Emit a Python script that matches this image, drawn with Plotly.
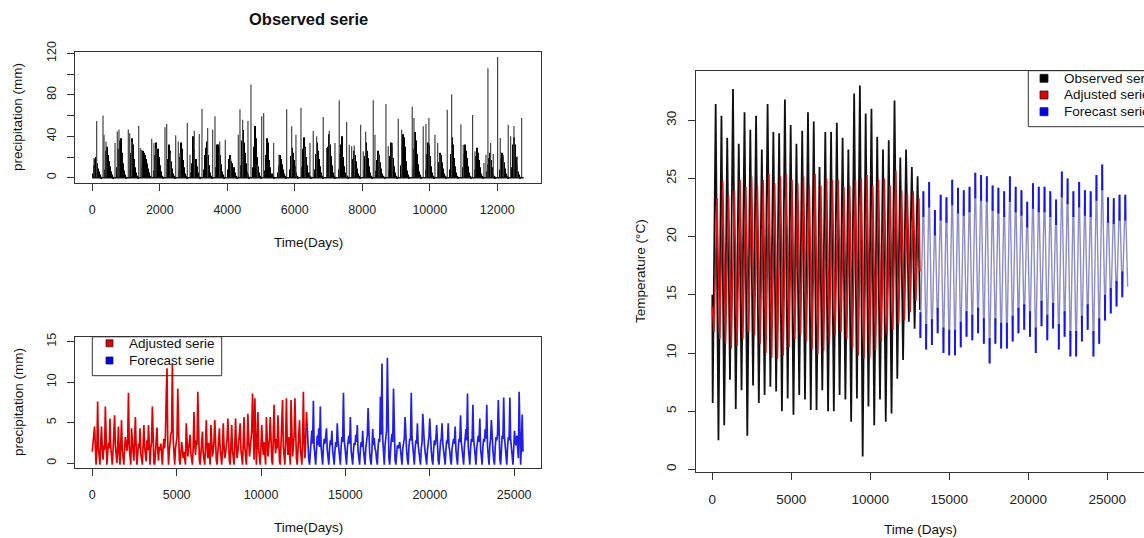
import plotly.graph_objects as go

W, H = 1144, 538
FONT = "Liberation Sans, Arial, sans-serif"
YEAR = 365.25


def fx(p):
    return p / W


def fy(p):
    return 1 - p / H


# ---------------- data: observed daily precipitation (top-left) ----------------
# dense (black) monthly level per year, 12 months per year
obs_monthly = [
    [4, 12, 18, 20, 14, 9, 6, 3, 1, 0, 0, 0],
    [8, 26, 30, 22, 16, 11, 6, 3, 1, 0, 0, 0],
    [10, 28, 36, 38, 24, 14, 7, 3, 1, 0, 0, 0],
    [8, 24, 38, 32, 18, 10, 5, 2, 1, 0, 0, 0],
    [10, 26, 24, 22, 18, 14, 9, 5, 2, 0, 0, 0],
    [7, 22, 34, 28, 20, 12, 6, 2, 1, 0, 0, 0],
    [6, 18, 32, 26, 16, 9, 4, 2, 1, 0, 0, 0],
    [7, 20, 34, 28, 17, 10, 4, 2, 1, 0, 0, 0],
    [5, 14, 40, 28, 18, 11, 5, 2, 1, 0, 0, 0],
    [8, 22, 29, 35, 22, 12, 5, 2, 1, 0, 0, 0],
    [10, 32, 32, 29, 22, 13, 6, 3, 1, 0, 0, 0],
    [8, 18, 22, 16, 14, 10, 5, 2, 1, 0, 0, 0],
    [12, 36, 46, 34, 24, 14, 6, 3, 1, 0, 0, 0],
    [10, 30, 50, 38, 20, 11, 5, 2, 1, 0, 0, 0],
    [7, 22, 38, 34, 17, 10, 4, 2, 1, 0, 0, 0],
    [5, 12, 22, 18, 13, 8, 4, 2, 1, 0, 0, 0],
    [8, 21, 29, 24, 17, 11, 5, 2, 1, 0, 0, 0],
    [10, 28, 39, 30, 20, 12, 5, 2, 1, 0, 0, 0],
    [8, 23, 34, 26, 18, 11, 5, 2, 1, 0, 0, 0],
    [10, 30, 42, 32, 21, 12, 5, 2, 1, 0, 0, 0],
    [8, 23, 32, 40, 20, 11, 5, 2, 1, 0, 0, 0],
    [7, 18, 26, 22, 16, 9, 4, 2, 1, 0, 0, 0],
    [8, 21, 34, 26, 19, 11, 5, 2, 1, 0, 0, 0],
    [7, 17, 26, 22, 15, 9, 4, 2, 1, 0, 0, 0],
    [8, 21, 34, 30, 19, 11, 5, 2, 1, 0, 0, 0],
    [12, 32, 42, 39, 30, 16, 7, 3, 1, 0, 0, 0],
    [10, 28, 44, 36, 23, 13, 6, 3, 1, 0, 0, 0],
    [8, 23, 34, 32, 21, 11, 5, 2, 1, 0, 0, 0],
    [7, 15, 24, 22, 15, 9, 4, 2, 1, 0, 0, 0],
    [8, 23, 39, 32, 19, 11, 5, 2, 1, 0, 0, 0],
    [10, 23, 32, 26, 19, 11, 5, 2, 1, 0, 0, 0],
    [8, 21, 29, 24, 17, 10, 4, 2, 1, 0, 0, 0],
    [6, 13, 19, 24, 17, 10, 4, 2, 1, 0, 0, 0],
    [8, 18, 24, 20, 15, 9, 4, 2, 1, 0, 0, 0],
    [10, 32, 39, 32, 20, 12, 6, 3, 1, 0, 0, 0],
]
# isolated rain spikes (day, mm)
spike_day = [50, 129, 317, 347, 406, 673, 741, 790, 1067, 1108, 1167, 1375, 1422, 1463,
             1760, 1828, 1887, 2154, 2204, 2311, 2471, 2548, 2598, 2815, 2895, 3022, 3170,
             3250, 3418, 3567, 3636, 3775, 3941, 4101, 4326, 4376, 4455, 4613, 4702, 4889,
             5019, 5078, 5374, 5531, 5760, 5908, 6035, 6184, 6302, 6450, 6548, 6648, 6844,
             6944, 7022, 7191, 7318, 7537, 7615, 7686, 7763, 7952, 8030, 8101, 8326, 8376,
             8495, 8702, 8770, 8889, 9067, 9167, 9482, 9532, 9807, 9887, 9976, 10154, 10234,
             10302, 10519, 10649, 10924, 10993, 11270, 11339, 11606, 11665, 11724, 11803,
             11882, 12011, 12090, 12178, 12326, 12397, 12495, 12593, 12723]
spike_mm = [19, 54.7, 60, 41.5, 35, 33.5, 44.7, 46.6, 46.6, 43, 34.4, 49.9, 28.6, 27,
            37.6, 33.5, 28.6, 48.6, 51.8, 23.8, 40.9, 35, 23.8, 52.7, 22.2, 45.3, 42.1,
            66.2, 48, 46.3, 59.2, 35, 36.7, 19, 41.5, 66, 56, 55, 90, 12.5,
            59.2, 62.4, 33.5, 22.2, 66, 49.6, 41.5, 67.5, 28.6, 33.5, 45, 39.9, 58.5,
            28.6, 45.3, 33.5, 74.8, 53.8, 31.8, 30.3, 31.2, 51, 25.5, 44.7, 74.8, 41.5,
            22.9, 71.1, 30.3, 33.5, 57, 46.3, 68.5, 57.6, 49.6, 51.8, 57.6, 41.5, 33.5,
            22.2, 65.5, 80.2, 51.5, 31.8, 60.6, 25.5, 14.2, 22.2, 105.6, 33.5,
            22.9, 116.6, 38.3, 22.2, 51, 39.9, 50, 20.6, 57.7]
assert len(spike_day) == len(spike_mm)

# ---------------- data: adjusted / forecast precipitation (bottom-left) ----------------
# 8 evenly spaced values per year
adj_prof = [
    [1.4, 2.2, 3.2, 4.5, 2.0, -0.2, 1.5, 7.6],
    [2.0, 1.0, -0.2, 2.5, 4.5, 1.8, 0.4, 2.2],
    [1.6, 7.0, 2.0, -0.2, 1.2, 2.5, 1.8, 5.5],
    [2.0, 0.5, -0.2, 1.5, 3.0, 5.9, 2.2, 1.0],
    [0.0, 2.0, 4.5, 1.2, -0.2, 2.4, 5.3, 1.6],
    [0.4, -0.2, 1.8, 3.2, 2.4, 1.5, 2.8, 8.7],
    [2.0, 0.2, -0.2, 4.3, 2.2, 1.4, 0.3, 2.6],
    [5.7, 2.0, -0.2, 1.0, 2.4, 1.8, 4.3, 1.2],
    [0.0, -0.2, 2.2, 4.7, 2.0, 1.0, 0.2, 2.8],
    [1.6, 4.7, 1.4, -0.2, 1.8, 2.6, 7.0, 1.8],
    [0.0, -0.2, 1.5, 2.8, 4.4, 1.6, 0.3, 2.0],
    [1.6, 2.4, 0.4, -0.2, 2.0, 3.0, 1.8, 3.5],
    [8.2, 11.7, 2.5, -0.2, 1.5, 2.8, 3.5, 4.0],
    [12.3, 3.0, 0.5, -0.2, 1.8, 2.6, 3.2, 9.2],
    [1.5, 0.4, -0.2, 1.2, 2.6, 1.8, 0.6, 1.4],
    [0.4, -0.2, 4.9, 2.0, 0.8, 1.6, 2.4, 3.5],
    [1.2, 0.2, -0.2, 2.0, 6.3, 2.4, 1.0, 2.8],
    [2.2, 8.8, 2.6, 0.4, -0.2, 1.8, 2.4, 3.9],
    [1.2, 0.3, -0.2, 2.2, 5.3, 2.0, 0.6, 2.5],
    [0.5, -0.2, 4.7, 2.2, 0.8, 1.5, 2.6, 5.3],
    [1.6, 0.4, -0.2, 1.4, 2.6, 4.3, 1.8, 0.6],
    [-0.2, 1.5, 4.9, 2.2, 0.6, 1.2, 2.4, 3.0],
    [5.5, 1.8, 0.2, -0.2, 2.0, 4.7, 1.6, 0.8],
    [-0.2, 2.0, 5.5, 2.4, 0.6, 1.4, 2.8, 3.2],
    [4.9, 1.6, 0.2, -0.2, 2.4, 5.7, 2.0, 1.0],
    [-0.2, 2.2, 6.1, 3.0, 0.8, 1.8, 3.0, 4.0],
    [8.6, 2.4, 0.4, 8.0, 3.0, -0.2, 2.2, 6.3],
    [1.8, 0.3, -0.2, 2.2, 4.7, 2.4, 1.0, 2.6],
    [0.4, -0.2, 5.7, 2.6, 0.8, 1.8, 3.0, 5.7],
    [1.6, 0.3, -0.2, 2.6, 7.2, 2.8, 1.2, 3.0],
    [1.8, 5.9, 2.4, 0.2, -0.2, 2.2, 3.2, 7.8],
    [2.0, 0.4, -0.2, 3.0, 8.0, 2.8, 1.0, 3.2],
    [0.6, -0.2, 7.8, 2.8, 0.8, 2.0, 3.4, 8.0],
    [2.2, 0.5, -0.2, 1.6, 2.8, 5.3, 2.0, 0.8],
    [-0.2, 2.4, 8.8, 3.0, 0.6, 2.6, 6.3, 4.5],
]
fc_prof = [
    [1.2, 0.4, -0.2, 1.8, 2.6, 4.0, 2.4, 7.7],
    [2.0, 0.6, -0.2, 1.6, 3.4, 2.2, 4.3, 2.0],
    [7.0, 2.0, 0.3, -0.2, 2.0, 3.0, 2.4, 3.6],
    [4.3, 1.6, 0.2, -0.2, 1.8, 2.8, 2.2, 4.0],
    [1.6, 0.4, -0.2, 1.5, 2.6, 2.0, 4.9, 2.8],
    [1.8, 0.5, -0.2, 2.0, 3.2, 2.6, 8.7, 3.0],
    [1.6, 0.4, -0.2, 1.8, 2.8, 3.4, 2.4, 5.7],
    [1.5, 0.3, -0.2, 1.6, 2.5, 2.2, 3.5, 2.6],
    [4.7, 1.4, 0.2, -0.2, 1.8, 2.6, 2.0, 4.0],
    [1.6, 0.4, -0.2, 1.8, 2.8, 3.5, 6.8, 2.4],
    [1.4, 0.3, -0.2, 1.6, 4.2, 2.2, 3.1, 1.8],
    [1.5, 0.4, -0.2, 2.0, 3.0, 2.6, 8.2, 3.5],
    [12.3, 3.0, 0.5, -0.2, 2.2, 3.2, 4.0, 13.0],
    [3.2, 0.6, -0.2, 1.8, 2.8, 3.6, 2.6, 9.2],
    [1.8, 0.4, -0.2, 1.4, 2.2, 1.8, 2.0, 2.6],
    [1.5, 0.4, -0.2, 1.8, 2.6, 3.0, 5.7, 2.2],
    [1.6, 0.4, -0.2, 2.0, 3.0, 2.8, 8.7, 3.2],
    [1.8, 0.5, -0.2, 1.8, 2.8, 2.4, 4.9, 2.2],
    [1.5, 0.4, -0.2, 1.8, 2.6, 6.1, 3.0, 2.4],
    [1.4, 0.3, -0.2, 1.6, 2.4, 3.2, 5.5, 2.0],
    [1.5, 0.4, -0.2, 1.6, 2.8, 2.2, 3.0, 4.7],
    [1.6, 0.4, -0.2, 1.8, 2.6, 3.0, 4.9, 2.4],
    [1.4, 0.3, -0.2, 1.6, 2.8, 2.4, 4.9, 2.0],
    [1.5, 0.4, -0.2, 1.8, 2.6, 3.0, 2.4, 4.5],
    [1.6, 0.4, -0.2, 1.8, 3.0, 2.6, 5.9, 2.6],
    [1.5, 0.5, -0.2, 2.0, 3.2, 4.2, 2.8, 8.6],
    [2.0, 0.5, -0.2, 1.8, 3.0, 2.6, 7.2, 3.0],
    [1.6, 0.4, -0.2, 1.8, 2.8, 3.4, 2.6, 5.5],
    [1.8, 0.5, -0.2, 2.0, 3.0, 2.6, 4.2, 3.0],
    [7.2, 2.0, 0.3, -0.2, 2.2, 3.0, 5.3, 2.4],
    [1.6, 0.4, -0.2, 2.0, 3.2, 2.8, 3.6, 7.8],
    [2.0, 0.5, -0.2, 2.2, 3.4, 3.0, 8.1, 3.2],
    [1.8, 0.5, -0.2, 2.0, 3.2, 2.8, 8.1, 3.0],
    [1.6, 0.4, -0.2, 1.8, 4.0, 2.6, 2.2, 3.4],
    [1.8, 0.6, 8.8, 2.4, -0.2, 2.2, 6.0, 1.4],
]

# ---------------- data: temperature (right) yearly extremes ----------------
obs_t_start = 15.0
obs_t_max = [31.4, 30.4, 28.5, 32.7, 28.0, 30.7, 29.2, 30.4, 27.5, 31.4, 29.0, 28.9,
             31.8, 29.6, 28.0, 29.1, 30.7, 29.9, 26.0, 29.0, 29.0, 29.8, 28.5, 27.5,
             32.3, 33.0, 30.6, 31.0, 28.6, 27.5, 28.3, 31.7, 26.8, 27.5, 26.0, 25.2]
obs_t_min = [5.7, 2.5, 3.8, 7.7, 5.2, 6.8, 2.9, 7.2, 5.7, 6.4, 7.1, 6.7, 5.0, 6.1,
             4.7, 6.4, 6.0, 5.1, 5.1, 6.8, 5.0, 5.0, 6.4, 6.0, 4.1, 6.1, 1.1, 5.4,
             3.8, 6.0, 4.1, 4.8, 7.8, 9.4, 12.7, 12.1, 13.7]
adj_t_start = 14.0
adj_t_max = [23.3, 24.8, 23.6, 24.0, 24.9, 24.3, 25.2, 24.4, 24.9, 25.4, 24.6, 25.2,
             25.4, 24.9, 24.6, 25.2, 24.4, 25.4, 24.4, 25.0, 24.9, 24.9, 24.3, 24.4,
             24.9, 25.0, 25.3, 24.4, 24.9, 25.0, 24.4, 25.7, 24.0, 23.7, 23.9, 23.3]
adj_t_min = [11.8, 11.2, 10.8, 10.4, 10.6, 11.2, 11.8, 11.5, 10.8, 10.0, 9.6, 9.5,
             9.8, 10.5, 11.2, 11.6, 11.0, 10.3, 9.9, 10.2, 10.8, 11.5, 11.8, 11.2,
             10.4, 9.8, 9.5, 9.6, 10.2, 11.0, 11.6, 12.0, 12.5, 12.8, 13.5, 14.5, 17.0]
fc_t_start = 12.0
fc_t_max = [23.9, 24.7, 22.3, 23.6, 23.4, 24.9, 24.2, 24.0, 24.3, 25.5, 25.3, 25.2,
            24.4, 24.2, 23.9, 25.2, 24.3, 24.0, 23.0, 24.6, 24.3, 24.3, 23.9, 23.2,
            25.6, 25.0, 23.9, 24.7, 24.0, 23.9, 25.3, 26.2, 23.4, 23.3, 23.6, 23.6]
fc_t_min = [11.3, 10.3, 10.7, 11.7, 10.0, 9.8, 9.8, 10.5, 11.4, 11.1, 11.7, 10.8,
            9.1, 10.8, 10.4, 10.4, 11.0, 11.7, 12.0, 11.4, 10.0, 12.3, 11.1, 12.1,
            10.3, 11.4, 9.7, 9.7, 11.0, 12.0, 9.7, 10.8, 12.8, 13.4, 14.0, 14.8, 15.7]

legend_bottom = ["Adjusted serie", "Forecast serie"]
legend_right = ["Observed serie", "Adjusted serie", "Forecast serie"]

# ---------------- styles ----------------
C_OBS, C_ADJ, C_FC = "#000000", "#e00000", "#0000ff"
OBS_OFF = (25, 215)
ADJ_OFF = (110, 300)
FC_OFF = (25, 215)


def profile_path(rows, start):
    xs, ys = [], []
    for k, row in enumerate(rows):
        n = len(row)
        for j, v in enumerate(row):
            xs.append(start + k * YEAR + j * YEAR / n)
            ys.append(v)
    return xs, ys


def zigzag(start_day, start_val, mins, maxs, off):
    xs, ys = [start_day], [start_val]
    for k in range(len(maxs)):
        xs += [start_day + k * YEAR + off[0], start_day + k * YEAR + off[1]]
        ys += [mins[k], maxs[k]]
    if len(mins) > len(maxs):
        xs.append(start_day + len(maxs) * YEAR)
        ys.append(mins[-1])
    return xs, ys


fig = go.Figure()

# --- top-left ---
bx, by = [], []
for k, row in enumerate(obs_monthly):
    for m, v in enumerate(row):
        bx.append(k * YEAR + (m + 0.5) * YEAR / 12)
        by.append(v)
fig.add_trace(go.Bar(x=bx, y=by, width=YEAR / 12,
                     marker=dict(color="#000000", line=dict(width=0)),
                     xaxis="x", yaxis="y"))
sx, sy = [], []
for d, v in zip(spike_day, spike_mm):
    sx += [d, d, None]
    sy += [0, v, None]
fig.add_trace(go.Scatter(x=sx, y=sy, mode="lines", line=dict(color="#444444", width=1.2),
                         xaxis="x", yaxis="y"))
n_days_obs = len(obs_monthly) * YEAR
fig.add_trace(go.Scatter(x=[0, n_days_obs], y=[0, 0], mode="lines",
                         line=dict(color="#111111", width=1.5), xaxis="x", yaxis="y"))

# --- bottom-left ---
ax_, ay_ = profile_path(adj_prof, 0)
fc_start = len(adj_prof) * YEAR
fx_, fy_ = profile_path(fc_prof, fc_start)
fig.add_trace(go.Scatter(x=ax_, y=ay_, mode="lines", line=dict(color=C_ADJ, width=1.7),
                         xaxis="x2", yaxis="y2"))
fig.add_trace(go.Scatter(x=[ax_[-1]] + fx_, y=[ay_[-1]] + fy_, mode="lines",
                         line=dict(color="#2020e8", width=1.7), xaxis="x2", yaxis="y2"))

# --- right ---
ox, oy = zigzag(0, obs_t_start, obs_t_min, obs_t_max, OBS_OFF)
fig.add_trace(go.Scatter(x=ox, y=oy, mode="lines", line=dict(color="#111111", width=1.8),
                         xaxis="x3", yaxis="y3"))
rx, ry = zigzag(0, adj_t_start, adj_t_min, adj_t_max, ADJ_OFF)
fig.add_trace(go.Scatter(x=rx, y=ry, mode="lines", line=dict(color="#e01010", width=1.5),
                         xaxis="x3", yaxis="y3"))
t_fc_start = len(obs_t_max) * YEAR
bx3, by3 = zigzag(t_fc_start, fc_t_start, fc_t_min, fc_t_max, FC_OFF)
fig.add_trace(go.Scatter(x=bx3, y=by3, mode="lines", line=dict(color="#8c8cc8", width=1.4),
                         xaxis="x3", yaxis="y3"))
# saturated dwell near the extremes of the forecast
DW = 2.2
dx, dy = [], []
for k in range(len(fc_t_max)):
    xm = t_fc_start + k * YEAR + FC_OFF[1]
    dx += [xm, xm, None]
    dy += [fc_t_max[k], fc_t_max[k] - DW, None]
    xn = t_fc_start + k * YEAR + FC_OFF[0]
    dx += [xn, xn, None]
    dy += [fc_t_min[k], fc_t_min[k] + DW, None]
fig.add_trace(go.Scatter(x=dx, y=dy, mode="lines", line=dict(color="#1515f0", width=2),
                         xaxis="x3", yaxis="y3"))

# ---------------- axes ----------------
tickfont = dict(family=FONT, size=12.5, color="#222222")
common = dict(showline=True, mirror=True, linecolor="#333333", linewidth=1,
              ticks="outside", ticklen=7, tickwidth=1, tickcolor="#333333",
              showgrid=False, zeroline=False, tickfont=tickfont, automargin=False)

x_top_ticks = [0, 2000, 4000, 6000, 8000, 10000, 12000]
x_long_ticks = [0, 5000, 10000, 15000, 20000, 25000]

fig.update_layout(
    xaxis=dict(common, domain=[fx(75), fx(541)], range=[-513, 13297], anchor="y",
               tickvals=x_top_ticks, ticktext=[str(v) for v in x_top_ticks],
               ticklabelstandoff=8),
    yaxis=dict(common, domain=[fy(182.7), fy(51.7)], range=[-4.8, 121.6], anchor="x",
               tickvals=[0, 20, 40, 60, 80, 100, 120],
               ticktext=["0", "", "40", "", "80", "", "120"], tickangle=-90,
               ticklabelstandoff=6),
    xaxis2=dict(common, domain=[fx(75), fx(541)], range=[-1022, 26590], anchor="y2",
                tickvals=x_long_ticks, ticktext=[str(v) for v in x_long_ticks],
                ticklabelstandoff=8),
    yaxis2=dict(common, domain=[fy(467.9), fy(336.8)], range=[-0.6, 15.6], anchor="x2",
                tickvals=[0, 5, 10, 15], ticktext=["0", "5", "10", "15"], tickangle=-90,
                ticklabelstandoff=6),
    xaxis3=dict(common, domain=[fx(695.7), fx(1143.5)], range=[-1050, 27300], anchor="y3",
                tickvals=x_long_ticks, ticktext=[str(v) for v in x_long_ticks],
                ticklabelstandoff=8,
                tickfont=dict(family=FONT, size=13.5, color="#222222")),
    yaxis3=dict(common, domain=[fy(471.7), fy(70.7)], range=[-0.2, 34.27], anchor="x3",
                tickvals=[0, 5, 10, 15, 20, 25, 30],
                ticktext=["0", "5", "10", "15", "20", "25", "30"], tickangle=-90,
                ticklabelstandoff=6,
                tickfont=dict(family=FONT, size=13.5, color="#222222")),
)

# ---------------- text ----------------
ann = []


def text(t, x, y, size, bold=False, angle=0, anchor="center"):
    ann.append(dict(text=f"<b>{t}</b>" if bold else t, x=fx(x), y=fy(y), xref="paper",
                    yref="paper", showarrow=False, xanchor=anchor, yanchor="middle",
                    textangle=angle, font=dict(family=FONT, size=size, color="#111111")))


text("Observed serie", 308, 19, 16.5, bold=True)
text("Time(Days)", 308, 243, 13.5)
text("precipitation (mm)", 18, 117, 13.5, angle=-90)
text("Time(Days)", 308, 527, 13.5)
text("precipitation (mm)", 18, 402, 13.5, angle=-90)
text("Time (Days)", 920, 529, 13.5)
text("Temperature (°C)", 640, 271, 13.5, angle=-90)

shapes = []


def rect(x0, y0, x1, y1, fill=None, line="#333333", lw=1):
    shapes.append(dict(type="rect", xref="paper", yref="paper", x0=fx(x0), x1=fx(x1),
                       y0=fy(y1), y1=fy(y0), layer="above",
                       fillcolor=fill if fill else "rgba(0,0,0,0)",
                       line=dict(color=line, width=lw)))


# bottom-left legend
rect(92.3, 336.8, 221.7, 375.7)
for i, (lab, col) in enumerate(zip(legend_bottom, [C_ADJ, C_FC])):
    cy = 343.3 + i * 17.2
    rect(106, cy - 3.5, 113, cy + 3.5, fill=col, line="#222222", lw=0.8)
    text(lab, 126.7, cy, 13.5, anchor="left")

# right legend (clipped by the page edge, as in the reference)
rect(1028.3, 70.7, 1160, 126.7)
for i, (lab, col) in enumerate(zip(legend_right, [C_OBS, C_ADJ, C_FC])):
    cy = 78.3 + i * 16.7
    rect(1040, cy - 4, 1048, cy + 4, fill=col, line="#222222", lw=0.8)
    text(lab, 1061.7, cy, 13.5, anchor="left")

fig.update_layout(
    width=W, height=H, autosize=False,
    margin=dict(l=0, r=0, t=0, b=0),
    paper_bgcolor="white", plot_bgcolor="white",
    showlegend=False, annotations=ann, shapes=shapes,
    font=dict(family=FONT),
)

fig.write_html("out.html", config={"displayModeBar": False},
               post_script="document.body.style.margin='0px';document.body.style.overflow='hidden';")
